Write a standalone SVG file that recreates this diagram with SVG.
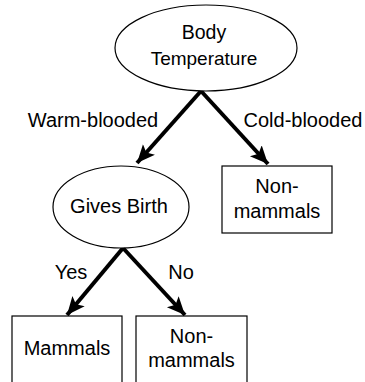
<svg xmlns="http://www.w3.org/2000/svg" width="365" height="382" viewBox="0 0 365 382">
<style>
.shape{fill:#fff;stroke:#000;stroke-width:1.2}
text{font-family:"Liberation Sans",Arial,sans-serif;font-size:20px;fill:#000;text-anchor:middle}
.edge{stroke:#000;stroke-width:4;fill:none}
</style>
<defs>
<marker id="arr" markerUnits="userSpaceOnUse" markerWidth="20" markerHeight="20" viewBox="0 0 20 20" refX="18" refY="10" orient="auto">
<path d="M0,2 L18,10 L0,18 L4,10 Z" fill="#000"/>
</marker>
</defs>
<rect width="365" height="382" fill="#fff"/>
<g id="connectors">
<line class="edge" x1="201" y1="91" x2="137" y2="163" marker-end="url(#arr)"/>
<line class="edge" x1="201" y1="91" x2="268" y2="164" marker-end="url(#arr)"/>
<line class="edge" x1="123" y1="248" x2="67" y2="315" marker-end="url(#arr)"/>
<line class="edge" x1="123" y1="248" x2="185" y2="315" marker-end="url(#arr)"/>
<text x="93" y="127">Warm-blooded</text>
<text x="303" y="127">Cold-blooded</text>
<text x="71" y="279">Yes</text>
<text x="181" y="279">No</text>
</g>
<g id="body-temperature">
<ellipse class="shape" cx="206" cy="48" rx="91" ry="43"/>
<text x="204" y="39" style="font-size:19.5px">Body</text>
<text x="204" y="65" style="font-size:19px">Temperature</text>
</g>
<g id="non-mammals-1">
<rect class="shape" x="222" y="166" width="110" height="67"/>
<text x="277" y="193">Non-</text>
<text x="277" y="218">mammals</text>
</g>
<g id="gives-birth">
<ellipse class="shape" cx="121" cy="207" rx="68" ry="41"/>
<text x="119" y="213">Gives Birth</text>
</g>
<g id="mammals">
<rect class="shape" x="12" y="316" width="110" height="70"/>
<text x="67" y="355">Mammals</text>
</g>
<g id="non-mammals-2">
<rect class="shape" x="136" y="316" width="111" height="70"/>
<text x="191.5" y="343">Non-</text>
<text x="191.5" y="367">mammals</text>
</g>
</svg>
